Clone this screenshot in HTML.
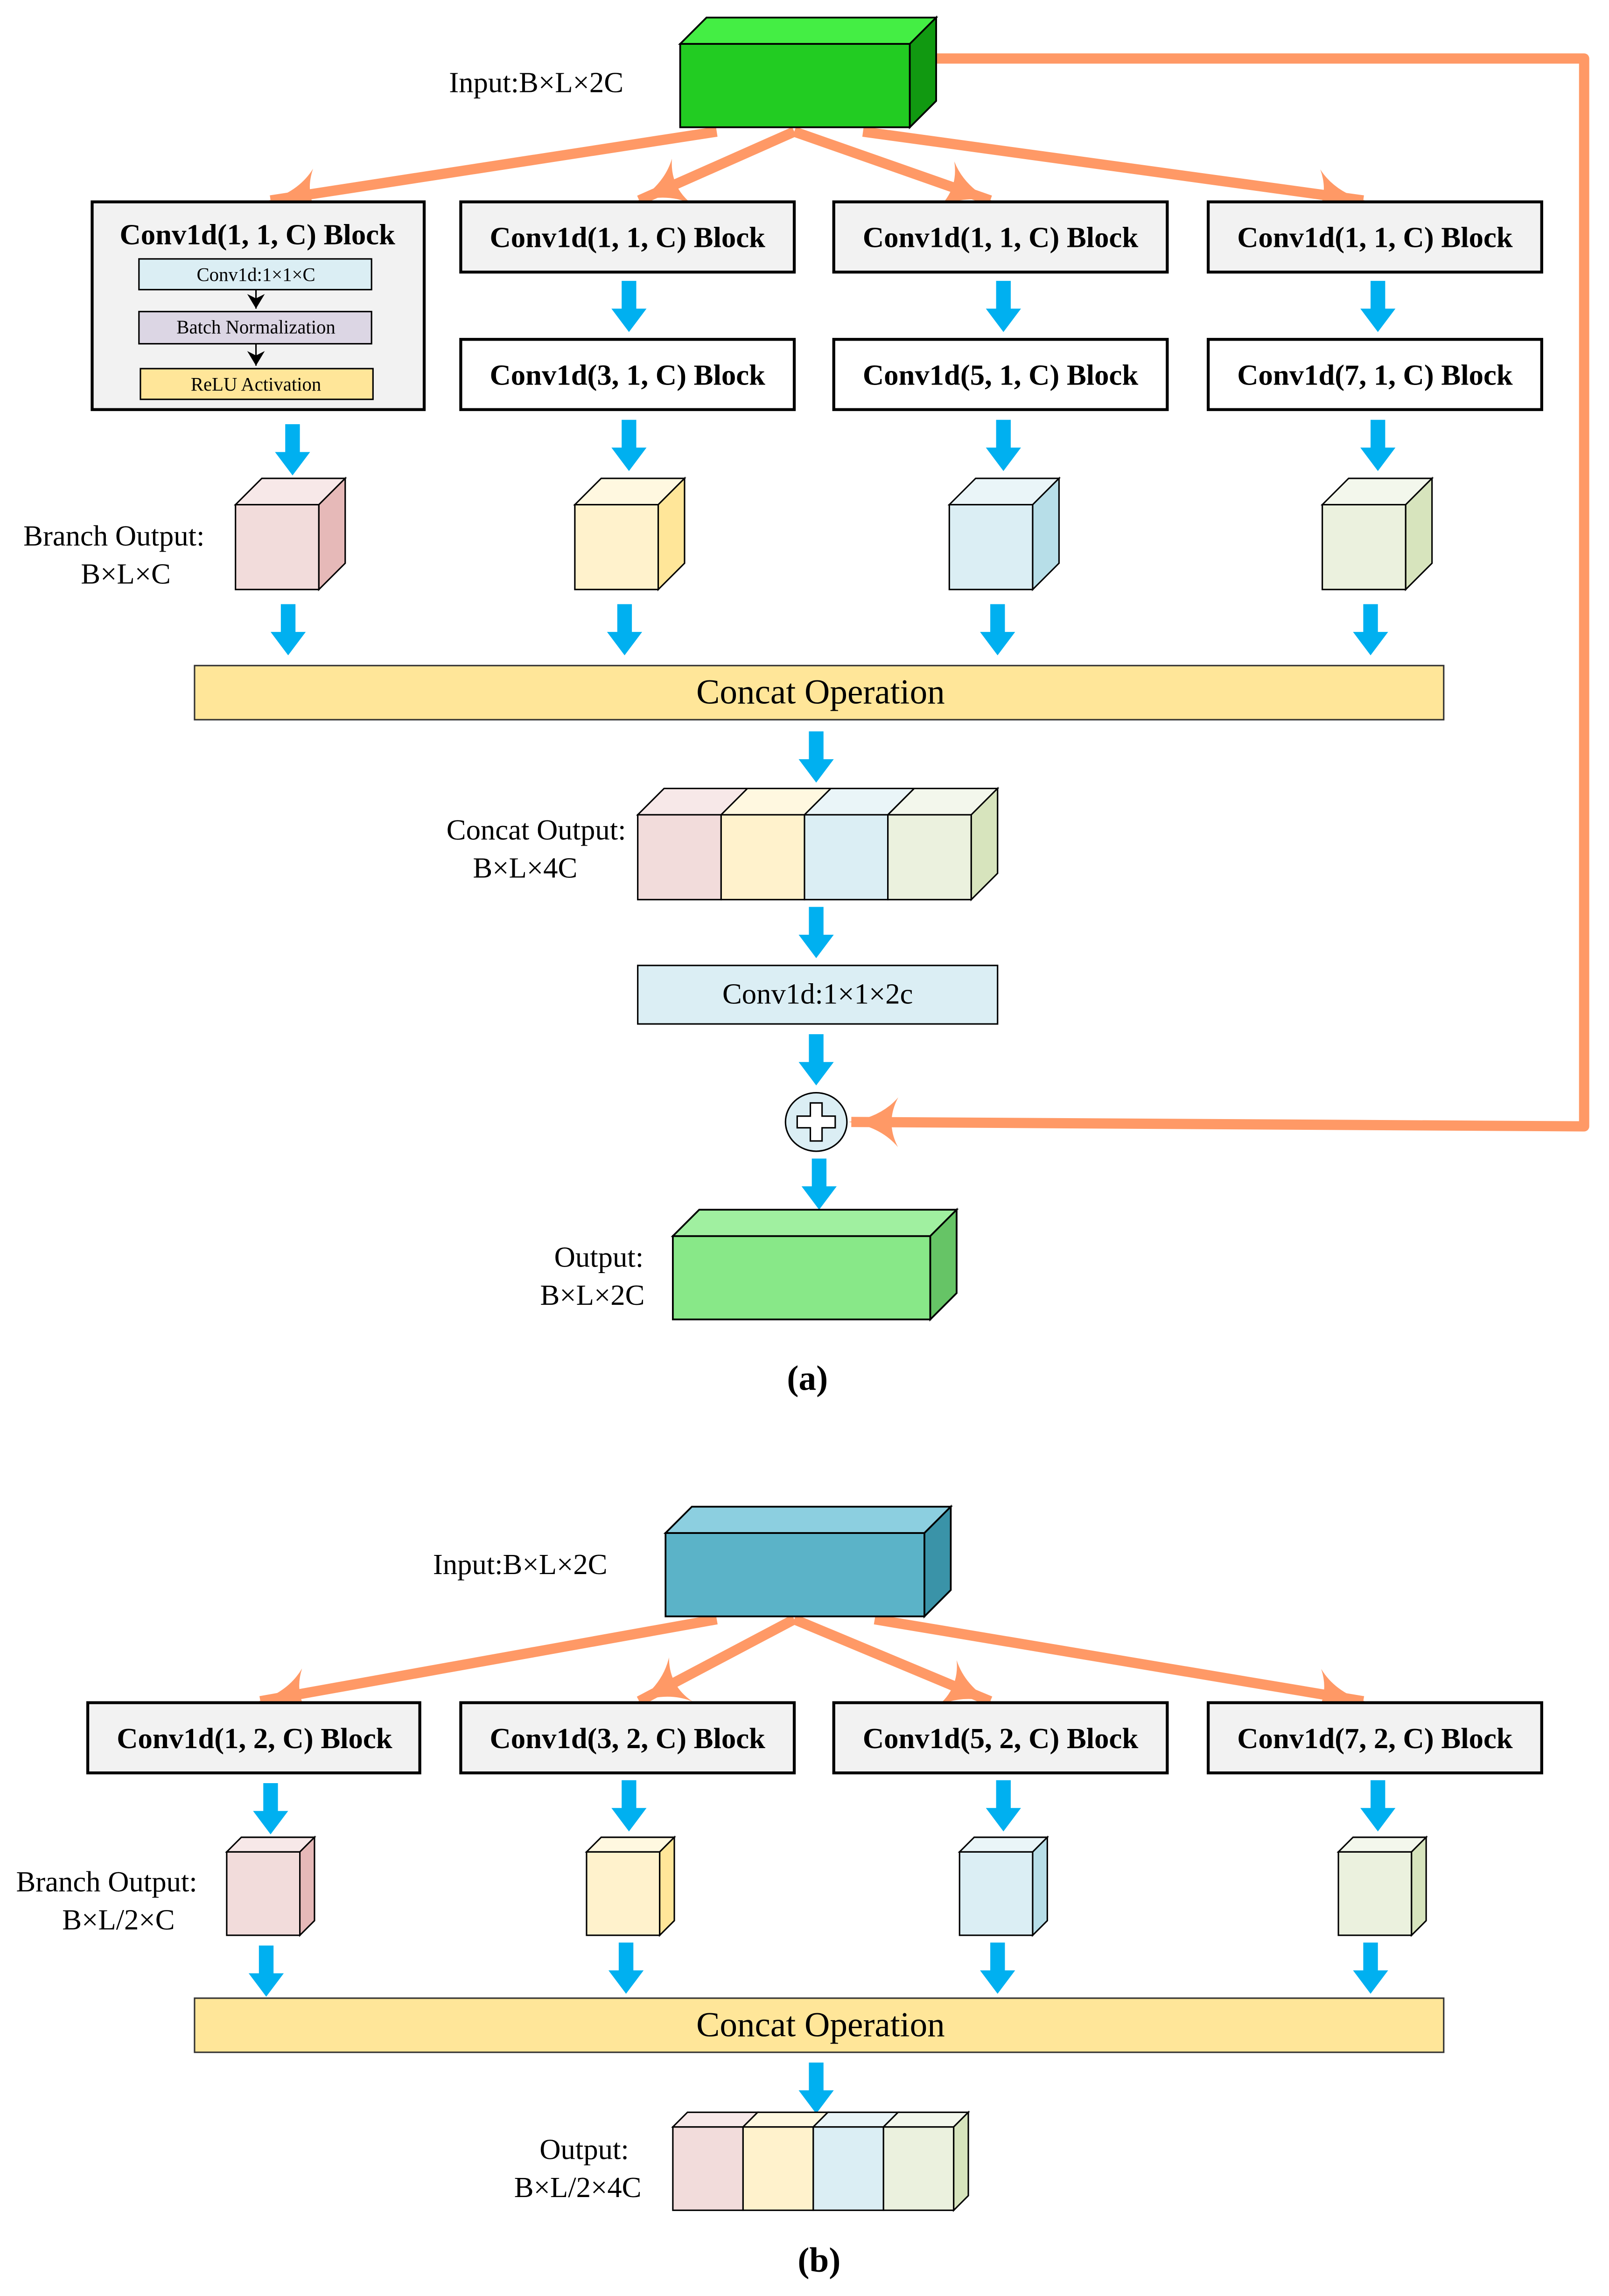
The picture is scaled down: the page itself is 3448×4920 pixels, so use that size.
<!DOCTYPE html>
<html><head><meta charset="utf-8"><style>html,body{margin:0;padding:0;background:#fff}svg{display:block}</style></head>
<body>
<svg xmlns="http://www.w3.org/2000/svg" xmlns:xlink="http://www.w3.org/1999/xlink" width="3448" height="4920" viewBox="0 0 1100 1569.6" font-family="'Liberation Serif', serif">
<defs>
<g id="ba"><polygon points="-5,0 5,0 5,19 12,19 0,35 -12,19 -5,19" fill="#00b0f0"/></g>
<marker id="oa" markerUnits="userSpaceOnUse" markerWidth="40" markerHeight="40" refX="32" refY="17" orient="auto" overflow="visible">
<path d="M0,0 Q12,14 34,17 Q12,20 0,34 Q9,17 0,0 Z" fill="#ff9966"/></marker>
<marker id="ob" markerUnits="userSpaceOnUse" markerWidth="12" markerHeight="12" refX="10" refY="6" orient="auto" overflow="visible">
<path d="M0,0 L10,6 L0,12 L3,6 Z" fill="#000"/></marker>
</defs>
<rect width="1100" height="1569.6" fill="#fff"/>

<!-- ===== (a) ===== -->
<g stroke="#ff9966" stroke-width="7" fill="none" stroke-linejoin="round">
<polyline points="640,40 1083,40 1083,770 582,767" marker-end="url(#oa)"/>
<line x1="490" y1="90" x2="185" y2="137" marker-end="url(#oa)"/>
<polyline points="543,90 437,137" marker-end="url(#oa)"/>
<polyline points="543,90 677,137" marker-end="url(#oa)"/>
<line x1="590" y1="90" x2="932" y2="137" marker-end="url(#oa)"/>
</g>
<g stroke="#000" stroke-width="1.2">
<rect x="465" y="30" width="157" height="57" fill="#22cc22"/>
<polygon points="465,30 483,12 640,12 622,30" fill="#44ee44"/>
<polygon points="622,30 640,12 640,69 622,87" fill="#119911"/>
</g>
<text x="307" y="63" font-size="20">Input:B×L×2C</text>

<g stroke="#000" stroke-width="2">
<rect x="63" y="138" width="227" height="142" fill="#f2f2f2"/>
<rect x="315" y="138" width="228" height="48" fill="#f2f2f2"/>
<rect x="570" y="138" width="228" height="48" fill="#f2f2f2"/>
<rect x="826" y="138" width="228" height="48" fill="#f2f2f2"/>
<rect x="315" y="232" width="228" height="48" fill="#fff"/>
<rect x="570" y="232" width="228" height="48" fill="#fff"/>
<rect x="826" y="232" width="228" height="48" fill="#fff"/>
</g>
<g font-size="20" font-weight="bold" text-anchor="middle">
<text x="176" y="167">Conv1d(1, 1, C) Block</text>
<text x="429" y="169">Conv1d(1, 1, C) Block</text>
<text x="684" y="169">Conv1d(1, 1, C) Block</text>
<text x="940" y="169">Conv1d(1, 1, C) Block</text>
<text x="429" y="263">Conv1d(3, 1, C) Block</text>
<text x="684" y="263">Conv1d(5, 1, C) Block</text>
<text x="940" y="263">Conv1d(7, 1, C) Block</text>
</g>
<g stroke="#000" stroke-width="1">
<rect x="95" y="177" width="159" height="21" fill="#dbeef4"/>
<rect x="95" y="213" width="159" height="22" fill="#dcd6e4"/>
<rect x="96" y="252" width="159" height="21" fill="#ffe699"/>
<line x1="175" y1="198" x2="175" y2="211" marker-end="url(#ob)"/>
<line x1="175" y1="235" x2="175" y2="250" marker-end="url(#ob)"/>
</g>
<g font-size="13" text-anchor="middle">
<text x="175" y="192">Conv1d:1×1×C</text>
<text x="175" y="228">Batch Normalization</text>
<text x="175" y="267">ReLU Activation</text>
</g>

<use xlink:href="#ba" x="430" y="192"/><use xlink:href="#ba" x="686" y="192"/><use xlink:href="#ba" x="942" y="192"/>
<use xlink:href="#ba" x="200" y="290"/><use xlink:href="#ba" x="430" y="287"/><use xlink:href="#ba" x="686" y="287"/><use xlink:href="#ba" x="942" y="287"/>

<g stroke="#000" stroke-width="1">
<rect x="161" y="345" width="57" height="58" fill="#f2dcdb"/><polygon points="161,345 179,327 236,327 218,345" fill="#f7e8e8"/><polygon points="218,345 236,327 236,385 218,403" fill="#e6b9b8"/>
<rect x="393" y="345" width="57" height="58" fill="#fff2cc"/><polygon points="393,345 411,327 468,327 450,345" fill="#fff8e0"/><polygon points="450,345 468,327 468,385 450,403" fill="#ffe699"/>
<rect x="649" y="345" width="57" height="58" fill="#dbeef4"/><polygon points="649,345 667,327 724,327 706,345" fill="#eaf5f8"/><polygon points="706,345 724,327 724,385 706,403" fill="#b7dee8"/>
<rect x="904" y="345" width="57" height="58" fill="#ebf1de"/><polygon points="904,345 922,327 979,327 961,345" fill="#f3f7ec"/><polygon points="961,345 979,327 979,385 961,403" fill="#d7e4bd"/>
</g>
<text x="16" y="373" font-size="20">Branch Output:</text>
<text x="86" y="399" font-size="20" text-anchor="middle">B×L×C</text>

<use xlink:href="#ba" x="197" y="413"/><use xlink:href="#ba" x="427" y="413"/><use xlink:href="#ba" x="682" y="413"/><use xlink:href="#ba" x="937" y="413"/>

<rect x="133" y="455" width="854" height="37" fill="#ffe699" stroke="#333" stroke-width="1"/>
<text x="561" y="481" font-size="24" text-anchor="middle">Concat Operation</text>

<use xlink:href="#ba" x="558" y="500"/>
<g stroke="#000" stroke-width="1">
<rect x="436" y="557" width="57" height="58" fill="#f2dcdb"/>
<rect x="493" y="557" width="57" height="58" fill="#fff2cc"/>
<rect x="550" y="557" width="57" height="58" fill="#dbeef4"/>
<rect x="607" y="557" width="57" height="58" fill="#ebf1de"/>
<polygon points="436,557 454,539 511,539 493,557" fill="#f7e8e8"/>
<polygon points="493,557 511,539 568,539 550,557" fill="#fff8e0"/>
<polygon points="550,557 568,539 625,539 607,557" fill="#eaf5f8"/>
<polygon points="607,557 625,539 682,539 664,557" fill="#f3f7ec"/>
<polygon points="664,557 682,539 682,597 664,615" fill="#d7e4bd"/>
</g>
<text x="428" y="574" font-size="20" text-anchor="end">Concat Output:</text>
<text x="359" y="600" font-size="20" text-anchor="middle">B×L×4C</text>

<use xlink:href="#ba" x="558" y="620"/>
<rect x="436" y="660" width="246" height="40" fill="#dbeef4" stroke="#000" stroke-width="1"/>
<text x="559" y="686" font-size="20" text-anchor="middle">Conv1d:1×1×2c</text>
<use xlink:href="#ba" x="558" y="707"/>
<ellipse cx="558" cy="767" rx="21" ry="20" fill="#dbeef4" stroke="#000" stroke-width="1"/>
<polygon points="554,754 562,754 562,763 571,763 571,771 562,771 562,780 554,780 554,771 545,771 545,763 554,763" fill="#fff" stroke="#000" stroke-width="1"/>
<use xlink:href="#ba" x="560" y="792"/>

<g stroke="#000" stroke-width="1.2">
<rect x="460" y="845" width="176" height="57" fill="#88e888"/>
<polygon points="460,845 478,827 654,827 636,845" fill="#a0f0a0"/>
<polygon points="636,845 654,827 654,884 636,902" fill="#66c466"/>
</g>
<text x="440" y="866" font-size="20" text-anchor="end">Output:</text>
<text x="405" y="892" font-size="20" text-anchor="middle">B×L×2C</text>
<text x="552" y="950" font-size="24" font-weight="bold" text-anchor="middle">(a)</text>

<!-- ===== (b) ===== -->
<g stroke="#ff9966" stroke-width="7" fill="none">
<line x1="490" y1="1107" x2="178" y2="1163" marker-end="url(#oa)"/>
<line x1="543" y1="1107" x2="437" y2="1163" marker-end="url(#oa)"/>
<line x1="543" y1="1107" x2="677" y2="1163" marker-end="url(#oa)"/>
<line x1="598" y1="1107" x2="932" y2="1163" marker-end="url(#oa)"/>
</g>
<g stroke="#000" stroke-width="1.2">
<rect x="455" y="1048" width="177" height="57" fill="#5bb3c8"/>
<polygon points="455,1048 473,1030 650,1030 632,1048" fill="#8ccfe0"/>
<polygon points="632,1048 650,1030 650,1087 632,1105" fill="#3a93a8"/>
</g>
<text x="296" y="1076" font-size="20">Input:B×L×2C</text>

<g stroke="#000" stroke-width="2" fill="#f2f2f2">
<rect x="60" y="1164" width="227" height="48"/>
<rect x="315" y="1164" width="228" height="48"/>
<rect x="570" y="1164" width="228" height="48"/>
<rect x="826" y="1164" width="228" height="48"/>
</g>
<g font-size="20" font-weight="bold" text-anchor="middle">
<text x="174" y="1195">Conv1d(1, 2, C) Block</text>
<text x="429" y="1195">Conv1d(3, 2, C) Block</text>
<text x="684" y="1195">Conv1d(5, 2, C) Block</text>
<text x="940" y="1195">Conv1d(7, 2, C) Block</text>
</g>
<use xlink:href="#ba" x="185" y="1219"/><use xlink:href="#ba" x="430" y="1217"/><use xlink:href="#ba" x="686" y="1217"/><use xlink:href="#ba" x="942" y="1217"/>

<g stroke="#000" stroke-width="1">
<rect x="155" y="1266" width="50" height="57" fill="#f2dcdb"/><polygon points="155,1266 165,1256 215,1256 205,1266" fill="#f7e8e8"/><polygon points="205,1266 215,1256 215,1313 205,1323" fill="#e6b9b8"/>
<rect x="401" y="1266" width="50" height="57" fill="#fff2cc"/><polygon points="401,1266 411,1256 461,1256 451,1266" fill="#fff8e0"/><polygon points="451,1266 461,1256 461,1313 451,1323" fill="#ffe699"/>
<rect x="656" y="1266" width="50" height="57" fill="#dbeef4"/><polygon points="656,1266 666,1256 716,1256 706,1266" fill="#eaf5f8"/><polygon points="706,1266 716,1256 716,1313 706,1323" fill="#b7dee8"/>
<rect x="915" y="1266" width="50" height="57" fill="#ebf1de"/><polygon points="915,1266 925,1256 975,1256 965,1266" fill="#f3f7ec"/><polygon points="965,1266 975,1256 975,1313 965,1323" fill="#d7e4bd"/>
</g>
<text x="11" y="1293" font-size="20">Branch Output:</text>
<text x="81" y="1319" font-size="20" text-anchor="middle">B×L/2×C</text>

<use xlink:href="#ba" x="182" y="1330"/><use xlink:href="#ba" x="428" y="1328"/><use xlink:href="#ba" x="682" y="1328"/><use xlink:href="#ba" x="937" y="1328"/>

<rect x="133" y="1366" width="854" height="37" fill="#ffe699" stroke="#333" stroke-width="1"/>
<text x="561" y="1392" font-size="24" text-anchor="middle">Concat Operation</text>
<use xlink:href="#ba" x="558" y="1410"/>

<g stroke="#000" stroke-width="1">
<rect x="460" y="1454" width="48" height="57" fill="#f2dcdb"/>
<rect x="508" y="1454" width="48" height="57" fill="#fff2cc"/>
<rect x="556" y="1454" width="48" height="57" fill="#dbeef4"/>
<rect x="604" y="1454" width="48" height="57" fill="#ebf1de"/>
<polygon points="460,1454 470,1444 518,1444 508,1454" fill="#f7e8e8"/>
<polygon points="508,1454 518,1444 566,1444 556,1454" fill="#fff8e0"/>
<polygon points="556,1454 566,1444 614,1444 604,1454" fill="#eaf5f8"/>
<polygon points="604,1454 614,1444 662,1444 652,1454" fill="#f3f7ec"/>
<polygon points="652,1454 662,1444 662,1501 652,1511" fill="#d7e4bd"/>
</g>
<text x="430" y="1476" font-size="20" text-anchor="end">Output:</text>
<text x="395" y="1502" font-size="20" text-anchor="middle">B×L/2×4C</text>
<text x="560" y="1553" font-size="24" font-weight="bold" text-anchor="middle">(b)</text>
</svg>
</body></html>
